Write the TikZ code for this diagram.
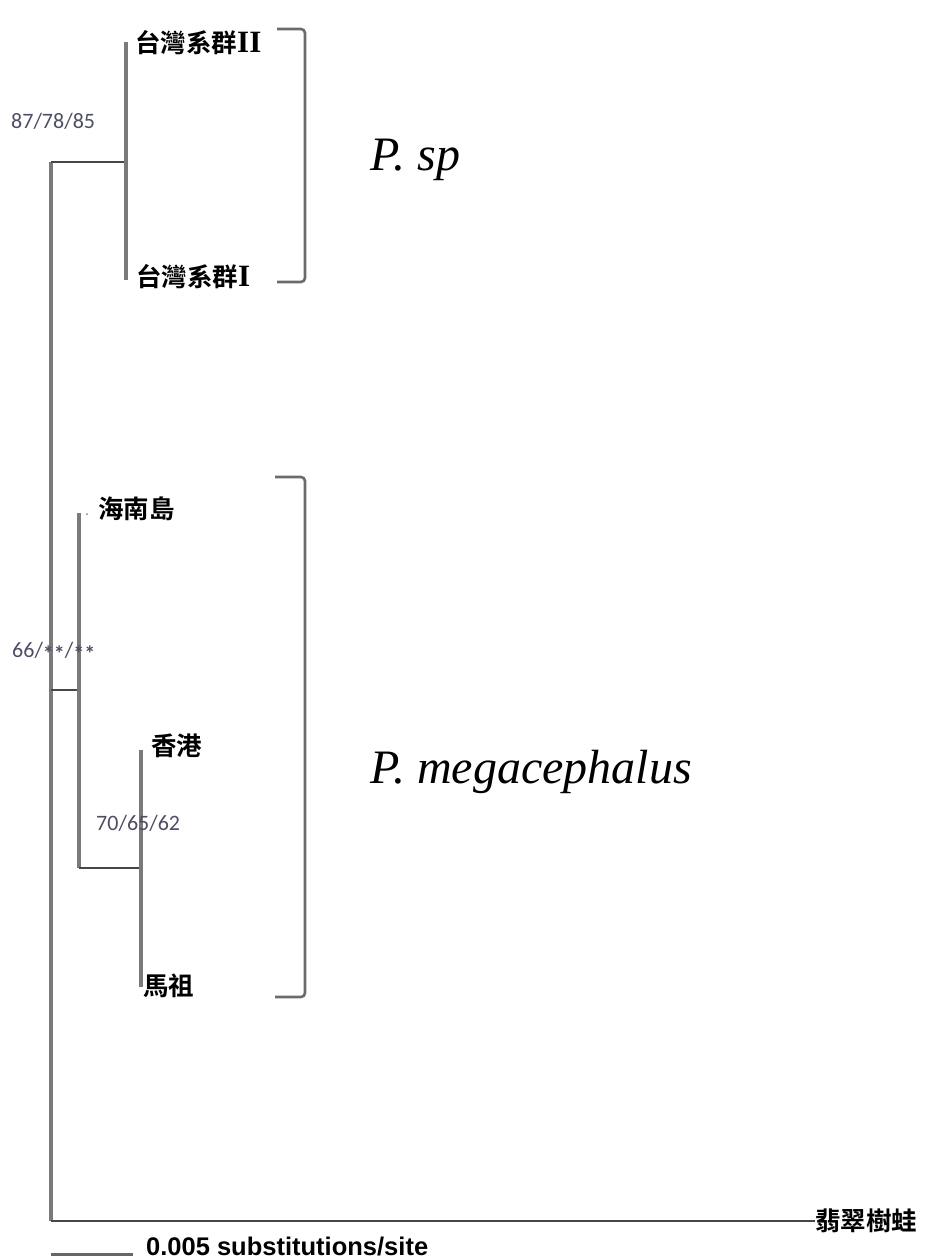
\documentclass[tikz,border=0pt]{standalone}
\usepackage{fontspec}
\newfontfamily\cjkb{Noto Sans CJK TC Bold}
\newfontfamily\tnr{Liberation Serif}
\newfontfamily\calfnt{Carlito}
\newfontfamily\arl{Liberation Sans}
\definecolor{bootc}{RGB}{78,78,100}
\begin{document}
\begin{tikzpicture}[x=1pt,y=-1pt,
  vline/.style={draw=black!52,line width=3.2pt},
  hline/.style={draw=black!72,line width=2.6pt},
  brk/.style={draw=black!58,line width=2.6pt,rounded corners=4pt},
  tip/.style={anchor=west,inner sep=0pt,font=\cjkb\fontsize{25.5}{25.5}\selectfont},
  boot/.style={anchor=west,inner sep=0pt,text=bootc,font=\calfnt\fontsize{22}{22}\selectfont},
  sp/.style={anchor=west,inner sep=0pt,font=\tnr\itshape\fontsize{48}{48}\selectfont}]
\useasboundingbox (0,0) rectangle (924,1260);
% tree coordinates
\coordinate (r0) at (51,162);
\coordinate (r1) at (51,690);
\coordinate (rb) at (51,1221);
\coordinate (a) at (126,162);
\coordinate (a1) at (126,42);
\coordinate (a2) at (126,280);
\coordinate (b) at (79,690);
\coordinate (b1) at (79,513);
\coordinate (b2) at (79,868);
\coordinate (c) at (141,868);
\coordinate (c1) at (141,750);
\coordinate (c2) at (141,987);
\coordinate (out) at (815,1221);
% tree
\draw[vline] (r0) -- (rb);
\draw[hline] (r0) -- (a);
\draw[vline] (a1) -- (a2);
\draw[hline] (r1) -- (b);
\draw[vline] (b1) -- (b2);
\draw[hline] (b2) -- (c);
\draw[vline] (c1) -- (c2);
\draw[hline] (rb) -- (out);
% labels
\node[tip] (t2) at (135,43) {台灣系群{\tnr\bfseries\fontsize{31}{31}\selectfont II}};
\node[tip] (t1) at (136,277) {台灣系群{\tnr\bfseries\fontsize{31}{31}\selectfont I}};
\node[tip] (hn) at (98,509) {海南島};
\node[tip] (hk) at (151,746) {香港};
\node[tip] (mz) at (143,986) {馬祖};
\node[tip] (og) at (out) {翡翠樹蛙};
\fill[black!50] (87,514) circle (1);
\node[boot] (n1) at (11,121) {87/78/85};
\node[boot] (n2) at (12,652) {66/\raisebox{-4pt}{\bfseries**}/\raisebox{-4pt}{\bfseries**}};
\node[boot] (n3) at (96,823) {70/65/62};
% brackets
\draw[brk] (277,29) -- (305,29) -- (305,282) -- (277,282);
\draw[brk] (275,477) -- (305,477) -- (305,997) -- (275,997);
\node[sp] (psp) at (370,160) {P. sp};
\node[sp] (pmg) at (370,772) {P. megacephalus};
% scale bar
\coordinate (s0) at (51,1254);
\coordinate (s1) at (133,1254);
\draw[hline,draw=black!60,line width=3pt] (s0) -- (s1);
\node[anchor=west,inner sep=0pt,font=\arl\bfseries\fontsize{25.5}{25.5}\selectfont] (sl) at (146,1247) {0.005 substitutions/site};
\end{tikzpicture}
\end{document}
